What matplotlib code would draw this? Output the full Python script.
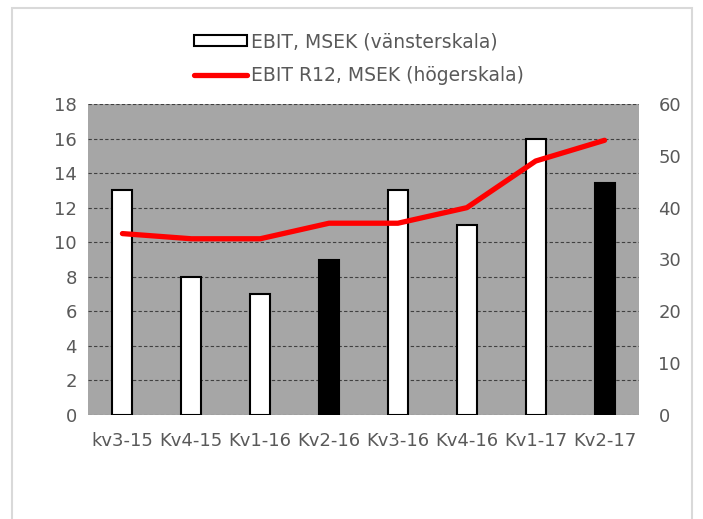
import matplotlib
matplotlib.use("Agg")
import matplotlib.pyplot as plt
from matplotlib.patches import Rectangle, Patch
from matplotlib.lines import Line2D

# data
quarters = ["kv3-15", "Kv4-15", "Kv1-16", "Kv2-16", "Kv3-16", "Kv4-16", "Kv1-17", "Kv2-17"]
ebit = [13, 8, 7, 9, 13, 11, 16, 13.4]
ebit_r12 = [35, 34, 34, 37, 37, 40, 49, 53]
bar_colors = ["white", "white", "white", "black", "white", "white", "white", "black"]

txt = "#595959"
plt.rcParams["font.family"] = ["DejaVu Sans"]
fs = 13

fig = plt.figure(figsize=(7.03, 5.19), dpi=100)
ax = fig.add_axes([88 / 703, 1 - 415 / 519, 551 / 703, 311 / 519])
ax.set_facecolor("#A6A6A6")

# outer chart border
fig.patches.append(Rectangle((12 / 703, -0.1), 680 / 703, 1.1 - 8 / 519,
                             transform=fig.transFigure, fill=False,
                             edgecolor="#D9D9D9", linewidth=1.5))

x = range(len(quarters))
ax.bar(x, ebit, width=0.29, color=bar_colors, edgecolor="black", linewidth=1.5, zorder=3)
ax.set_ylim(0, 18)
ax.set_yticks(range(0, 19, 2))
ax.set_xlim(-0.5, 7.5)
ax.set_xticks(list(x))
ax.set_xticklabels(quarters)
ax.yaxis.grid(True, color="#404040", linestyle=(0, (3, 2)), linewidth=0.8, zorder=0)
ax.set_axisbelow(True)
ax.tick_params(length=0, colors=txt, labelsize=fs)
ax.tick_params(axis="y", pad=8)
ax.tick_params(axis="x", pad=12)
for s in ax.spines.values():
    s.set_visible(False)

ax2 = ax.twinx()
ax2.plot(list(x), ebit_r12, color="red", linewidth=3.8, solid_capstyle="round", zorder=4)
ax2.set_ylim(0, 60)
ax2.set_yticks(range(0, 61, 10))
ax2.tick_params(length=0, colors=txt, labelsize=fs, pad=14)
for s in ax2.spines.values():
    s.set_visible(False)

handles = [Patch(facecolor="white", edgecolor="black", linewidth=1.5),
           Line2D([], [], color="red", linewidth=3.8, solid_capstyle="round")]
labels = ["EBIT, MSEK (vänsterskala)", "EBIT R12, MSEK (högerskala)"]
leg = fig.legend(handles, labels, loc="upper left", bbox_to_anchor=(185 / 703, 1 - 23 / 519),
                 frameon=False, handlelength=2.8, handleheight=0.55, handletextpad=0.2,
                 labelspacing=0.8, fontsize=13.5, borderpad=0)
for t in leg.get_texts():
    t.set_color(txt)

fig.savefig("out.png", dpi=100)
